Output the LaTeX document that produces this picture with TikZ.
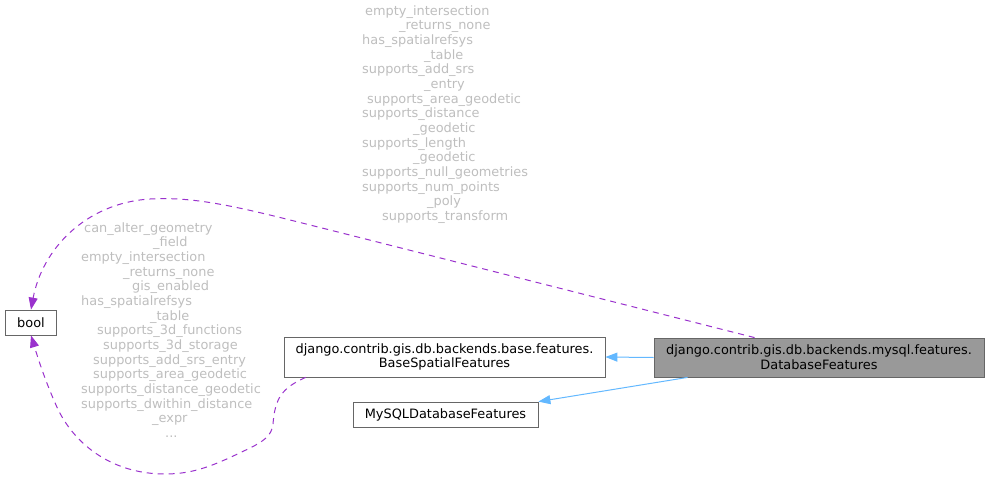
\documentclass[tikz,border=0pt]{standalone}
\usepackage{fontspec}
\setmainfont{DejaVu Sans}
\usetikzlibrary{arrows.meta}
\definecolor{edgeblue}{HTML}{63B8FF}
\definecolor{edgepurple}{HTML}{9A32CD}
\definecolor{lblgray}{HTML}{BEBEBE}
\definecolor{boxgray}{HTML}{666666}
\definecolor{fillgray}{HTML}{999999}
\tikzset{
  box/.style={draw=boxgray, line width=0.8pt, fill=white, inner sep=0pt, align=center,
    font=\fontsize{12.9}{14.67}\selectfont, text=black},
  inherit/.style={draw=edgeblue, line width=1pt, -{Triangle[length=12pt,width=9pt,fill=edgeblue]}},
  usage/.style={draw=edgepurple, line width=1pt, dash pattern=on 6pt off 5pt,
    -{Triangle[length=12pt,width=9pt,fill=edgepurple]}},
  lbl/.style={anchor=base west, inner sep=0pt, text=lblgray, font=\fontsize{12.9}{14.67}\selectfont}
}
\begin{document}
\begin{tikzpicture}[x=1pt,y=-1pt]
\useasboundingbox (0,0) rectangle (989,480);

\node[box, minimum width=51pt, minimum height=25pt] (bool) at (31,322.5) {bool};
\node[box, minimum width=321pt, minimum height=40pt] (base) at (444.5,357) {django.contrib.gis.db.backends.base.features.\\BaseSpatialFeatures};
\node[box, minimum width=185pt, minimum height=25pt] (mysql) at (445.5,414.5) {MySQLDatabaseFeatures};
\node[box, fill=fillgray, minimum width=330pt, minimum height=39pt] (db) at (819,357.5) {django.contrib.gis.db.backends.mysql.features.\\DatabaseFeatures};

\draw[inherit] (db.west) -- (base.east);
\draw[inherit] ([xshift=34pt]db.south west) -- (mysql.north east);

\draw[usage] ([xshift=101pt]db.north west) -- (330,230)
  .. controls (250,210) and (200,196) .. (150,199)
  .. controls (85,203) and (42,250) .. (bool.north);

\draw[usage] ([xshift=22pt]base.south west)
  .. controls (282,388) and (275,398) .. (273,424)
  .. controls (272,436) and (262,442) .. (250,448)
  .. controls (215,465) and (195,474) .. (165,474)
  .. controls (110,474) and (72,442) .. (56,405)
  .. controls (44,378) and (37,355) .. (bool.south);

\foreach \i/\x/\txt in {
  0/365/empty\_intersection,
  1/399/\_returns\_none,
  2/362/has\_spatialrefsys,
  3/424/\_table,
  4/362/supports\_add\_srs,
  5/424/\_entry,
  6/367/supports\_area\_geodetic,
  7/362/supports\_distance,
  8/413/\_geodetic,
  9/362/supports\_length,
  10/413/\_geodetic,
  11/362/supports\_null\_geometries,
  12/362/supports\_num\_points,
  13/427/\_poly,
  14/382/supports\_transform}
  {\node[lbl] (t\i) at (\x,15+14.67*\i) {\txt};}

\foreach \i/\x/\txt in {
  0/84/can\_alter\_geometry,
  1/153/\_field,
  2/81/empty\_intersection,
  3/123/\_returns\_none,
  4/132/gis\_enabled,
  5/81/has\_spatialrefsys,
  6/150/\_table,
  7/97/supports\_3d\_functions,
  8/103/supports\_3d\_storage,
  9/93/supports\_add\_srs\_entry,
  10/93/supports\_area\_geodetic,
  11/81/supports\_distance\_geodetic,
  12/81/supports\_dwithin\_distance,
  13/152/\_expr}
  {\node[lbl] (l\i) at (\x,232+14.67*\i) {\txt};}
\node[lbl] (l14) at (165,437.4) {...};
\end{tikzpicture}
\end{document}
